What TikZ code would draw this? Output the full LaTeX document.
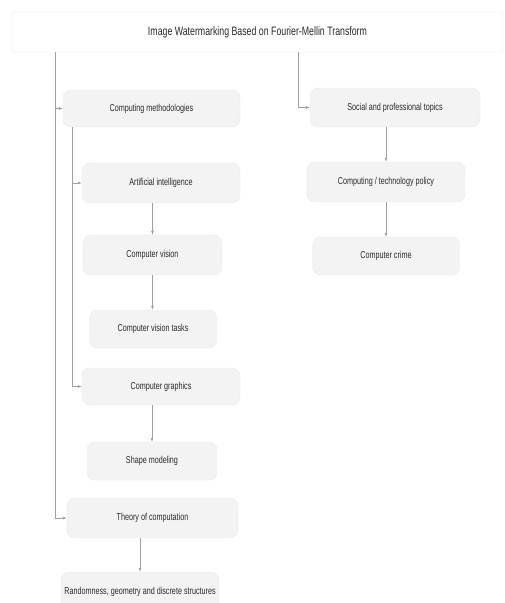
\documentclass[tikz,border=0pt]{standalone}
\usepackage{fontspec}
\setmainfont{Liberation Sans}[FakeStretch=0.72]
\usepackage{tikz}
\usetikzlibrary{arrows.meta,positioning}
\definecolor{boxfill}{HTML}{F3F3F3}
\definecolor{boxline}{HTML}{EAEAEA}
\definecolor{linkgray}{HTML}{A0A0A0}
\definecolor{textgray}{HTML}{2A2A2A}
\tikzset{
  rootbox/.style={draw=boxline, fill=white, rounded corners=3pt, align=center, text=textgray, font=\fontsize{12.2}{13}\selectfont},
  topic/.style={draw=boxline, fill=boxfill, rounded corners=8pt, align=center, text=textgray, font=\fontsize{10}{11}\selectfont},
  link/.style={draw=linkgray, line width=0.6pt, -{Latex[length=4pt,width=3pt]}}
}

\begin{document}
\begin{tikzpicture}[x=1pt, y=-1pt]
\useasboundingbox (0,0) rectangle (504,603);
\node[rootbox, minimum width=491pt, minimum height=40pt] (root) at (257.5,32) {Image Watermarking Based on Fourier-Mellin Transform};
% left branch
\node[topic, minimum width=177pt, minimum height=37pt] (method) at (151.5,108.5) {Computing methodologies};
\node[topic, minimum width=158pt, minimum height=40pt] (ai) at (161,183) {Artificial intelligence};
\node[topic, minimum width=139pt, minimum height=40pt] (vision) at (152.5,255) {Computer vision};
\node[topic, minimum width=127pt, minimum height=38pt] (tasks) at (153,329) {Computer vision tasks};
\node[topic, minimum width=158pt, minimum height=37pt] (graphics) at (161,386.5) {Computer graphics};
\node[topic, minimum width=130pt, minimum height=38pt] (shape) at (152,461) {Shape modeling};
\node[topic, minimum width=171pt, minimum height=40pt] (theory) at (152.5,518) {Theory of computation};
\node[topic, minimum width=154pt, minimum height=40pt] (random) at (140,592) {Randomness, geometry and discrete structures};
% right branch
\node[topic, minimum width=170pt, minimum height=39pt] (social) at (395,107.5) {Social and professional topics};
\node[topic, minimum width=158pt, minimum height=40pt] (policy) at (386,182) {Computing / technology policy};
\node[topic, minimum width=147pt, minimum height=38pt] (crime) at (386,256) {Computer crime};
% trunks
\coordinate (trunkL) at (55,52);
\coordinate (trunkM) at (72,127);
\coordinate (trunkR) at (298,52);
\draw[link] (trunkL) |- (method.west);
\draw[link] (trunkL) |- (theory.west);
\draw[link] (trunkM) |- (ai.west);
\draw[link] (trunkM) |- (graphics.west);
\draw[link] (trunkR) |- (social.west);
\draw[link] (ai.south -| vision.north) -- (vision.north);
\draw[link] (vision.south) -- (vision.south |- tasks.north);
\draw[link] (graphics.south -| shape.north) -- (shape.north);
\draw[link] (theory.south -| random.north) -- (random.north);
\draw[link] (social.south -| policy.north) -- (policy.north);
\draw[link] (policy) -- (crime);
\end{tikzpicture}
\end{document}
